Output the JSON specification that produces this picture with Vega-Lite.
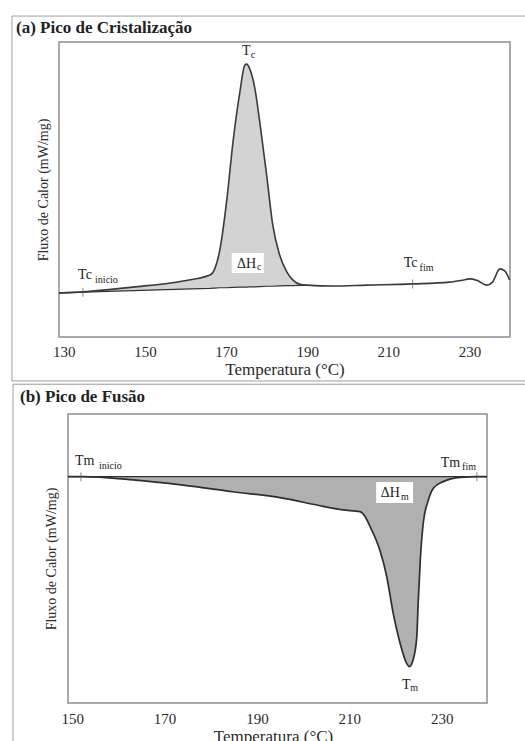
{
  "$schema": "https://vega.github.io/schema/vega-lite/v6.json",
  "background": "white",
  "padding": {"left": 10, "top": 14, "right": 0, "bottom": 0},
  "columns": 1,
  "spacing": 0,
  "config": {
    "view": {"stroke": "#8f8f8f", "strokeWidth": 1.5},
    "font": "Liberation Serif",
    "axis": {
      "grid": false, "ticks": false, "domain": false,
      "labelFont": "Liberation Serif", "titleFont": "Liberation Serif",
      "labelColor": "#2b2b2b", "titleColor": "#2b2b2b", "titleFontWeight": "normal"
    },
    "text": {"font": "Liberation Serif", "color": "#222222"}
  },
  "datasets": {
    "cristalizacao": [
      {"temp": 128.8, "flux": 1.49, "base": 1.49},
      {"temp": 134.7, "flux": 1.53, "base": 1.52},
      {"temp": 147.0, "flux": 1.69, "base": 1.57},
      {"temp": 159.4, "flux": 1.90, "base": 1.62},
      {"temp": 166.0, "flux": 2.10, "base": 1.65},
      {"temp": 167.2, "flux": 2.31, "base": 1.66},
      {"temp": 168.5, "flux": 2.98, "base": 1.67},
      {"temp": 170.2, "flux": 4.68, "base": 1.67},
      {"temp": 171.7, "flux": 6.61, "base": 1.68},
      {"temp": 173.4, "flux": 8.31, "base": 1.69},
      {"temp": 174.6, "flux": 9.21, "base": 1.69},
      {"temp": 175.1, "flux": 9.25, "base": 1.69},
      {"temp": 175.8, "flux": 9.10, "base": 1.70},
      {"temp": 177.1, "flux": 8.42, "base": 1.70},
      {"temp": 178.3, "flux": 7.29, "base": 1.71},
      {"temp": 180.0, "flux": 5.49, "base": 1.72},
      {"temp": 181.5, "flux": 3.80, "base": 1.72},
      {"temp": 183.2, "flux": 2.78, "base": 1.73},
      {"temp": 185.0, "flux": 2.20, "base": 1.74},
      {"temp": 186.5, "flux": 1.93, "base": 1.74},
      {"temp": 188.2, "flux": 1.79, "base": 1.75},
      {"temp": 189.9, "flux": 1.76, "base": 1.76},
      {"temp": 196.3, "flux": 1.73},
      {"temp": 204.7, "flux": 1.76},
      {"temp": 216.0, "flux": 1.80},
      {"temp": 225.1, "flux": 1.86},
      {"temp": 228.1, "flux": 1.92},
      {"temp": 230.1, "flux": 1.97},
      {"temp": 231.8, "flux": 1.92},
      {"temp": 234.3, "flux": 1.76},
      {"temp": 235.7, "flux": 1.86},
      {"temp": 237.5, "flux": 2.31},
      {"temp": 238.7, "flux": 2.24},
      {"temp": 239.9, "flux": 1.93}
    ],
    "fusao": [
      {"temp": 149.1, "flux": -2.17, "base": -2.17},
      {"temp": 152.1, "flux": -2.17, "base": -2.17},
      {"temp": 163.2, "flux": -2.28, "base": -2.17},
      {"temp": 174.0, "flux": -2.46, "base": -2.17},
      {"temp": 184.8, "flux": -2.69, "base": -2.17},
      {"temp": 195.6, "flux": -2.91, "base": -2.17},
      {"temp": 203.0, "flux": -3.15, "base": -2.17},
      {"temp": 208.6, "flux": -3.32, "base": -2.17},
      {"temp": 212.3, "flux": -3.38, "base": -2.17},
      {"temp": 213.4, "flux": -3.55, "base": -2.17},
      {"temp": 214.5, "flux": -3.90, "base": -2.17},
      {"temp": 216.6, "flux": -4.71, "base": -2.17},
      {"temp": 218.1, "flux": -5.63, "base": -2.17},
      {"temp": 219.5, "flux": -6.90, "base": -2.17},
      {"temp": 221.0, "flux": -7.94, "base": -2.17},
      {"temp": 222.4, "flux": -8.63, "base": -2.17},
      {"temp": 223.0, "flux": -8.74, "base": -2.17},
      {"temp": 223.8, "flux": -8.51, "base": -2.17},
      {"temp": 224.6, "flux": -7.71, "base": -2.17},
      {"temp": 224.9, "flux": -6.55, "base": -2.17},
      {"temp": 225.4, "flux": -4.94, "base": -2.17},
      {"temp": 226.0, "flux": -3.78, "base": -2.17},
      {"temp": 227.1, "flux": -2.98, "base": -2.17},
      {"temp": 228.2, "flux": -2.57, "base": -2.17},
      {"temp": 230.3, "flux": -2.34, "base": -2.17},
      {"temp": 234.0, "flux": -2.19, "base": -2.17},
      {"temp": 237.6, "flux": -2.17, "base": -2.17},
      {"temp": 239.8, "flux": -2.17, "base": -2.17}
    ],
    "rotulos_a": [
      {"temp": 173.9, "flux": 9.56, "txt": "T", "tipo": "principal"},
      {"temp": 176.1, "flux": 9.46, "txt": "c", "tipo": "indice"},
      {"temp": 133.5, "flux": 1.97, "txt": "Tc", "tipo": "principal"},
      {"temp": 137.7, "flux": 1.83, "txt": "inicio", "tipo": "indice"},
      {"temp": 213.8, "flux": 2.37, "txt": "Tc", "tipo": "principal"},
      {"temp": 217.7, "flux": 2.25, "txt": "fim", "tipo": "indice"},
      {"temp": 172.7, "flux": 2.34, "txt": "ΔH", "tipo": "principal"},
      {"temp": 177.6, "flux": 2.27, "txt": "c", "tipo": "indice"},
      {"temp": 134.7, "flux": 1.52, "tipo": "marca"},
      {"temp": 216.0, "flux": 1.80, "tipo": "marca"}
    ],
    "rotulos_b": [
      {"temp": 150.6, "flux": -1.76, "txt": "Tm", "tipo": "principal"},
      {"temp": 155.8, "flux": -1.90, "txt": "inicio", "tipo": "indice"},
      {"temp": 229.8, "flux": -1.82, "txt": "Tm", "tipo": "principal"},
      {"temp": 234.4, "flux": -1.94, "txt": "fim", "tipo": "indice"},
      {"temp": 216.8, "flux": -2.87, "txt": "ΔH", "tipo": "principal"},
      {"temp": 221.2, "flux": -2.98, "txt": "m", "tipo": "indice"},
      {"temp": 221.4, "flux": -9.52, "txt": "T", "tipo": "principal"},
      {"temp": 223.2, "flux": -9.58, "txt": "m", "tipo": "indice"},
      {"temp": 151.9, "flux": -2.17, "tipo": "marca"},
      {"temp": 237.6, "flux": -2.17, "tipo": "marca"}
    ]
  },
  "concat": [
    {
      "width": 451,
      "height": 295,
      "layer": [
        {
          "data": {"values": [{}]},
          "mark": {"type": "rect", "filled": false, "stroke": "#9c9c9c", "strokeWidth": 1},
          "encoding": {
            "x": {"datum": 117.2, "type": "quantitative"},
            "x2": {"datum": 244.9},
            "y": {"datum": -1.49, "type": "quantitative"},
            "y2": {"datum": 10.88}
          }
        },
        {
          "data": {"name": "cristalizacao"},
          "transform": [{"filter": "isValid(datum.base)"}],
          "mark": {"type": "area", "interpolate": "monotone", "fill": "#d3d3d3"},
          "encoding": {
            "x": {"field": "temp", "type": "quantitative"},
            "y": {"field": "flux", "type": "quantitative"},
            "y2": {"field": "base"}
          }
        },
        {
          "data": {"name": "cristalizacao"},
          "transform": [{"filter": "isValid(datum.base)"}],
          "mark": {"type": "line", "color": "#333333", "strokeWidth": 1.2},
          "encoding": {
            "x": {"field": "temp", "type": "quantitative"},
            "y": {"field": "base", "type": "quantitative"}
          }
        },
        {
          "data": {"name": "cristalizacao"},
          "mark": {"type": "line", "interpolate": "monotone", "color": "#3a3a3a", "strokeWidth": 1.6},
          "encoding": {
            "x": {
              "field": "temp", "type": "quantitative",
              "scale": {"domain": [128.8, 240], "nice": false, "zero": false},
              "axis": {"title": "Temperatura (°C)", "values": [130, 150, 170, 190, 210, 230], "labelFontSize": 15, "labelPadding": 7, "titleFontSize": 17, "titlePadding": 2, "labelFlush": false}
            },
            "y": {
              "field": "flux", "type": "quantitative",
              "scale": {"domain": [0, 10], "nice": false, "zero": false},
              "axis": {"title": "Fluxo de Calor (mW/mg)", "labels": false, "titleFontSize": 14, "titlePadding": 9}
            }
          }
        },
        {
          "data": {"name": "rotulos_a"},
          "transform": [{"filter": "datum.tipo == 'marca'"}],
          "mark": {"type": "tick", "orient": "vertical", "size": 9, "thickness": 1, "color": "#555555"},
          "encoding": {
            "x": {"field": "temp", "type": "quantitative"},
            "y": {"field": "flux", "type": "quantitative"}
          }
        },
        {
          "data": {"values": [{}]},
          "mark": {"type": "rect", "fill": "white"},
          "encoding": {
            "x": {"datum": 171.4, "type": "quantitative"},
            "x2": {"datum": 179.3},
            "y": {"datum": 2.17, "type": "quantitative"},
            "y2": {"datum": 2.85}
          }
        },
        {
          "data": {"name": "rotulos_a"},
          "transform": [{"filter": "datum.tipo == 'principal'"}],
          "mark": {"type": "text", "align": "left", "baseline": "alphabetic", "fontSize": 14},
          "encoding": {
            "x": {"field": "temp", "type": "quantitative"},
            "y": {"field": "flux", "type": "quantitative"},
            "text": {"field": "txt"}
          }
        },
        {
          "data": {"name": "rotulos_a"},
          "transform": [{"filter": "datum.tipo == 'indice'"}],
          "mark": {"type": "text", "align": "left", "baseline": "alphabetic", "fontSize": 10},
          "encoding": {
            "x": {"field": "temp", "type": "quantitative"},
            "y": {"field": "flux", "type": "quantitative"},
            "text": {"field": "txt"}
          }
        },
        {
          "data": {"values": [{}]},
          "mark": {"type": "text", "text": "(a) Pico de Cristalização", "align": "left", "baseline": "alphabetic", "fontSize": 17, "fontWeight": "bold"},
          "encoding": {
            "x": {"datum": 118.2, "type": "quantitative"},
            "y": {"datum": 10.32, "type": "quantitative"}
          }
        }
      ]
    },
    {
      "width": 428,
      "height": 289,
      "view": {"stroke": null},
      "layer": [
        {
          "data": {"values": [{}]},
          "mark": {"type": "rect", "filled": false, "stroke": "#9c9c9c", "strokeWidth": 1},
          "encoding": {
            "x": {"datum": 137.2, "type": "quantitative"},
            "x2": {"datum": 249.1},
            "y": {"datum": -11.6, "type": "quantitative"},
            "y2": {"datum": 1.03}
          }
        },
        {
          "data": {"values": [{}]},
          "mark": {"type": "rect", "filled": false, "stroke": "#8f8f8f", "strokeWidth": 1.5},
          "encoding": {
            "x": {"datum": 149.1, "type": "quantitative"},
            "x2": {"datum": 239.8},
            "y": {"datum": -10, "type": "quantitative"},
            "y2": {"datum": 0}
          }
        },
        {
          "data": {"name": "fusao"},
          "mark": {"type": "area", "interpolate": "monotone", "fill": "#b0b0b0"},
          "encoding": {
            "x": {"field": "temp", "type": "quantitative"},
            "y": {"field": "flux", "type": "quantitative"},
            "y2": {"field": "base"}
          }
        },
        {
          "data": {"name": "fusao"},
          "mark": {"type": "line", "color": "#333333", "strokeWidth": 1.2},
          "encoding": {
            "x": {"field": "temp", "type": "quantitative"},
            "y": {"field": "base", "type": "quantitative"}
          }
        },
        {
          "data": {"name": "fusao"},
          "mark": {"type": "line", "interpolate": "monotone", "color": "#2e2e2e", "strokeWidth": 1.7},
          "encoding": {
            "x": {
              "field": "temp", "type": "quantitative",
              "scale": {"domain": [147.15, 239.8], "nice": false, "zero": false},
              "axis": {"title": "Temperatura (°C)", "values": [150, 170, 190, 210, 230], "labelFontSize": 15, "labelPadding": 8, "titleFontSize": 17, "titlePadding": 2, "labelFlush": false}
            },
            "y": {
              "field": "flux", "type": "quantitative",
              "scale": {"domain": [-10, 0], "nice": false, "zero": false},
              "axis": {"title": "Fluxo de Calor (mW/mg)", "labels": false, "titleFontSize": 14, "titlePadding": 10, "offset": -9}
            }
          }
        },
        {
          "data": {"name": "rotulos_b"},
          "transform": [{"filter": "datum.tipo == 'marca'"}],
          "mark": {"type": "tick", "orient": "vertical", "size": 9, "thickness": 1, "color": "#555555"},
          "encoding": {
            "x": {"field": "temp", "type": "quantitative"},
            "y": {"field": "flux", "type": "quantitative"}
          }
        },
        {
          "data": {"values": [{}]},
          "mark": {"type": "rect", "fill": "white"},
          "encoding": {
            "x": {"datum": 215.8, "type": "quantitative"},
            "x2": {"datum": 223.8},
            "y": {"datum": -3.08, "type": "quantitative"},
            "y2": {"datum": -2.35}
          }
        },
        {
          "data": {"name": "rotulos_b"},
          "transform": [{"filter": "datum.tipo == 'principal'"}],
          "mark": {"type": "text", "align": "left", "baseline": "alphabetic", "fontSize": 14},
          "encoding": {
            "x": {"field": "temp", "type": "quantitative"},
            "y": {"field": "flux", "type": "quantitative"},
            "text": {"field": "txt"}
          }
        },
        {
          "data": {"name": "rotulos_b"},
          "transform": [{"filter": "datum.tipo == 'indice'"}],
          "mark": {"type": "text", "align": "left", "baseline": "alphabetic", "fontSize": 10},
          "encoding": {
            "x": {"field": "temp", "type": "quantitative"},
            "y": {"field": "flux", "type": "quantitative"},
            "text": {"field": "txt"}
          }
        },
        {
          "data": {"values": [{}]},
          "mark": {"type": "text", "text": "(b) Pico de Fusão", "align": "left", "baseline": "alphabetic", "fontSize": 17, "fontWeight": "bold"},
          "encoding": {
            "x": {"datum": 138.7, "type": "quantitative"},
            "y": {"datum": 0.43, "type": "quantitative"}
          }
        }
      ]
    }
  ]
}
